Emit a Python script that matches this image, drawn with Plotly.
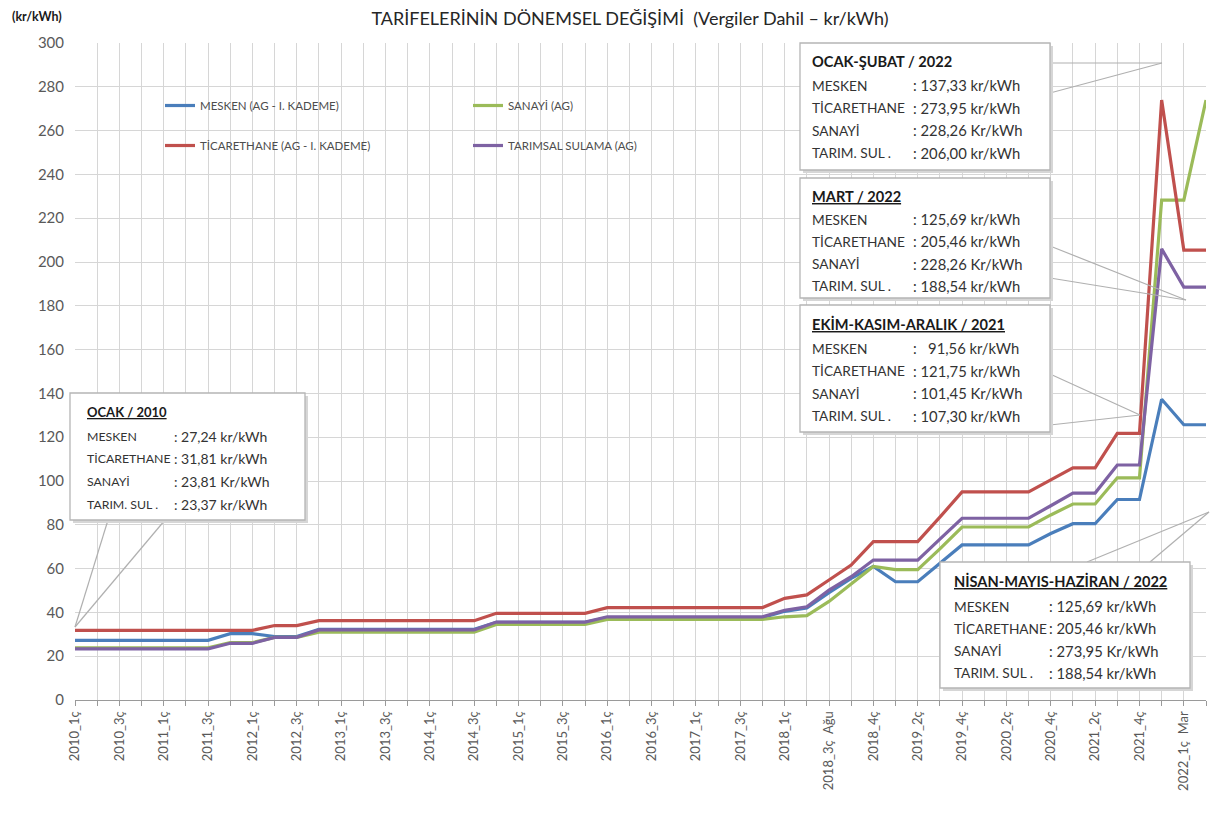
import plotly.graph_objects as go

# ---------------- data ----------------
categories = [
    "2010_1ç", "2010_2ç", "2010_3ç", "2010_4ç",
    "2011_1ç", "2011_2ç", "2011_3ç", "2011_4ç",
    "2012_1ç", "2012_2ç", "2012_3ç", "2012_4ç",
    "2013_1ç", "2013_2ç", "2013_3ç", "2013_4ç",
    "2014_1ç", "2014_2ç", "2014_3ç", "2014_4ç",
    "2015_1ç", "2015_2ç", "2015_3ç", "2015_4ç",
    "2016_1ç", "2016_2ç", "2016_3ç", "2016_4ç",
    "2017_1ç", "2017_2ç", "2017_3ç", "2017_4ç",
    "2018_1ç", "2018_2ç", "2018_3ç Ağu", "2018_3ç Eyl", "2018_4ç",
    "2019_1ç", "2019_2ç", "2019_3ç", "2019_4ç",
    "2020_1ç", "2020_2ç", "2020_3ç", "2020_4ç",
    "2021_1ç", "2021_2ç", "2021_3ç", "2021_4ç",
    "2022_1ç Oca", "2022_1ç Mar", "2022_2ç",
]
# only every second category carries a visible label
tick_labels = [c.replace(" ", "&nbsp;&nbsp;") if i % 2 == 0 else ""
               for i, c in enumerate(categories)]

mesken = [27.24, 27.24, 27.24, 27.24, 27.24, 27.24, 27.24, 30.3,
          30.3, 29.0, 29.0, 32.3, 32.3, 32.3, 32.3, 32.3,
          32.3, 32.3, 32.3, 35.5, 35.5, 35.5, 35.5, 35.5,
          37.6, 37.6, 37.6, 37.6, 37.6, 37.6, 37.6, 37.6,
          40.5, 42.0, 49.0, 55.5, 61.0,
          54.0, 54.0, 62.5, 70.8,
          70.8, 70.8, 70.8, 76.0,
          80.5, 80.5, 91.56, 91.56,
          137.33, 125.69, 125.69]
sanayi = [23.81, 23.81, 23.81, 23.81, 23.81, 23.81, 23.81, 26.2,
          26.2, 28.6, 28.6, 31.0, 31.0, 31.0, 31.0, 31.0,
          31.0, 31.0, 31.0, 34.5, 34.5, 34.5, 34.5, 34.5,
          36.8, 36.8, 36.8, 36.8, 36.8, 36.8, 36.8, 36.8,
          38.0, 38.5, 45.0, 53.0, 61.0,
          59.5, 59.5, 69.0, 79.0,
          79.0, 79.0, 79.0, 84.5,
          89.5, 89.5, 101.45, 101.45,
          228.26, 228.26, 273.95]
ticarethane = [31.81, 31.81, 31.81, 31.81, 31.81, 31.81, 31.81, 31.81,
               31.81, 34.0, 34.0, 36.2, 36.2, 36.2, 36.2, 36.2,
               36.2, 36.2, 36.2, 39.6, 39.6, 39.6, 39.6, 39.6,
               42.2, 42.2, 42.2, 42.2, 42.2, 42.2, 42.2, 42.2,
               46.4, 48.0, 54.8, 61.6, 72.3,
               72.3, 72.3, 83.5, 95.0,
               95.0, 95.0, 95.0, 100.5,
               106.0, 106.0, 121.75, 121.75,
               273.95, 205.46, 205.46]
tarimsal = [23.37, 23.37, 23.37, 23.37, 23.37, 23.37, 23.37, 25.9,
            25.9, 28.6, 28.6, 32.0, 32.0, 32.0, 32.0, 32.0,
            32.0, 32.0, 32.0, 35.6, 35.6, 35.6, 35.6, 35.6,
            38.0, 38.0, 38.0, 38.0, 38.0, 38.0, 38.0, 38.0,
            41.0, 42.6, 50.2, 56.3, 63.9,
            63.9, 63.9, 73.5, 83.0,
            83.0, 83.0, 83.0, 88.7,
            94.5, 94.5, 107.30, 107.30,
            206.00, 188.54, 188.54]

series_names = ["MESKEN (AG - I. KADEME)", "SANAYİ (AG)",
                "TİCARETHANE (AG - I. KADEME)", "TARIMSAL SULAMA (AG)"]
series_values = [mesken, sanayi, ticarethane, tarimsal]
series_colors = ["#4A7EBB", "#9BBB59", "#C0504D", "#7E62A3"]
series_legends = ["legend", "legend2", "legend", "legend2"]

row_labels = ["MESKEN", "TİCARETHANE", "SANAYİ", "TARIM. SUL ."]
box_texts = [
    ("OCAK / 2010", True, [": 27,24 kr/kWh", ": 31,81 kr/kWh", ": 23,81 Kr/kWh", ": 23,37 kr/kWh"]),
    ("OCAK-ŞUBAT / 2022", False, [": 137,33 kr/kWh", ": 273,95 kr/kWh", ": 228,26 Kr/kWh", ": 206,00 kr/kWh"]),
    ("MART / 2022", True, [": 125,69 kr/kWh", ": 205,46 kr/kWh", ": 228,26 Kr/kWh", ": 188,54 kr/kWh"]),
    ("EKİM-KASIM-ARALIK / 2021", True, [":   91,56 kr/kWh", ": 121,75 kr/kWh", ": 101,45 Kr/kWh", ": 107,30 kr/kWh"]),
    ("NİSAN-MAYIS-HAZİRAN / 2022", True, [": 125,69 kr/kWh", ": 205,46 kr/kWh", ": 273,95 Kr/kWh", ": 188,54 kr/kWh"]),
]

# ---------------- layout geometry (screen pixels) ----------------
SCREEN_W, SCREEN_H = 1220, 829
OFF = 8                      # default page body margin
W, H = SCREEN_W - 2 * OFF, SCREEN_H - 2 * OFF
L, R, T, B = 75, 1206, 43, 700
FONT = "Lato"

def px(x):
    return (x - L) / (R - L)

def py(y):
    return (B - y) / (B - T)

# box geometry: x0, x1, y0, y1, label x, value x, title y, first row y, row step,
#               title size, label size, value size
box_geom = [
    (70, 305, 393, 520, 85, 172, 412, 436, 22.7, 13.0, 12.3, 14.0),
    (800, 1050, 43, 170, 810, 911, 61, 85, 22.6, 14.6, 13.7, 14.8),
    (800, 1050, 178, 298, 810, 911, 196, 219, 22.3, 14.6, 13.7, 14.8),
    (800, 1050, 305, 432, 810, 911, 324, 348, 22.6, 14.6, 13.7, 14.8),
    (940, 1190, 562, 688, 952, 1047, 581, 606, 22.3, 14.6, 13.7, 14.8),
]
# callout wedge lines (pixel endpoints)
callouts = [
    [(75, 627, 108, 520), (75, 627, 165, 520)],
    [(1050, 63, 1162, 63), (1050, 93, 1162, 63)],
    [(1050, 246, 1186, 300), (1050, 278, 1186, 300)],
    [(1050, 374, 1140, 415), (1050, 425, 1140, 415)],
    [(1087, 562, 1209, 512), (1150, 562, 1209, 512)],
]

fig = go.Figure()
for name, vals, col, lg in zip(series_names, series_values, series_colors, series_legends):
    fig.add_trace(go.Scatter(
        x=categories, y=vals, mode="lines", name=name,
        line=dict(color=col, width=3.2), legend=lg, legendgroup=name,
        hoverinfo="skip",
    ))

shapes = []
annotations = []

# white background behind the legend
shapes.append(dict(type="rect", xref="paper", yref="paper", layer="between",
                   x0=px(145), x1=px(700), y0=py(165), y1=py(88),
                   fillcolor="white", line=dict(width=0)))

for lines in callouts:
    for (x0, y0, x1, y1) in lines:
        shapes.append(dict(type="line", xref="paper", yref="paper", layer="above",
                           x0=px(x0), y0=py(y0), x1=px(x1), y1=py(y1),
                           line=dict(color="#b0b0b0", width=1.2)))

for (title, underline, vals), g in zip(box_texts, box_geom):
    x0, x1, y0, y1, lx, vx, ty, ry, step, tfs, lfs, vfs = g
    # shadow
    shapes.append(dict(type="rect", xref="paper", yref="paper", layer="above",
                       x0=px(x0 + 3), x1=px(x1 + 3), y0=py(y1 + 3), y1=py(y0 + 3),
                       fillcolor="#d6d6d6", line=dict(width=0)))
    shapes.append(dict(type="rect", xref="paper", yref="paper", layer="above",
                       x0=px(x0), x1=px(x1), y0=py(y1), y1=py(y0),
                       fillcolor="white", line=dict(color="#b5b5b5", width=1.3)))
    t = f"<b>{title}</b>"
    if underline:
        t = f"<u>{t}</u>"
    annotations.append(dict(xref="paper", yref="paper", x=px(lx), y=py(ty),
                            xanchor="left", yanchor="middle", showarrow=False,
                            text=t, font=dict(family=FONT, size=tfs, color="#1a1a1a")))
    for i, (lab, val) in enumerate(zip(row_labels, vals)):
        yy = py(ry + i * step)
        annotations.append(dict(xref="paper", yref="paper", x=px(lx), y=yy,
                                xanchor="left", yanchor="middle", showarrow=False,
                                text=lab, font=dict(family=FONT, size=lfs, color="#333333")))
        annotations.append(dict(xref="paper", yref="paper", x=px(vx), y=yy,
                                xanchor="left", yanchor="middle", showarrow=False,
                                text=val.replace("  ", "&nbsp;&nbsp;"),
                                font=dict(family=FONT, size=vfs, color="#333333")))

# corner unit label
annotations.append(dict(xref="paper", yref="paper", x=px(10), y=py(17),
                        xanchor="left", yanchor="middle", showarrow=False,
                        text="<b>(kr/kWh)</b>", font=dict(family=FONT, size=12.5, color="#1a1a1a")))

fig.update_layout(
    width=W, height=H,
    margin=dict(l=L - OFF, r=(SCREEN_W - OFF) - R, t=T - OFF, b=(SCREEN_H - OFF) - B, pad=0),
    paper_bgcolor="white", plot_bgcolor="white",
    title=dict(text="TARİFELERİNİN DÖNEMSEL DEĞİŞİMİ  (Vergiler Dahil – kr/kWh)",
               x=px(630), xref="paper", xanchor="center",
               y=1 - (19 - OFF) / H, yref="container", yanchor="middle",
               font=dict(family=FONT, size=18, color="#262626")),
    font=dict(family=FONT, color="#595959"),
    xaxis=dict(type="category", categoryorder="array", categoryarray=categories,
               range=[0, len(categories) - 1],
               tickmode="array", tickvals=categories, ticktext=tick_labels,
               tickangle=-90, tickfont=dict(family=FONT, size=13, color="#595959"),
               showgrid=True, gridcolor="#d6d6d6", gridwidth=1,
               showline=True, linecolor="#9a9a9a", linewidth=1.2,
               ticks="outside", ticklen=5, tickcolor="#9a9a9a",
               zeroline=False, automargin=False),
    yaxis=dict(range=[0, 300], tickmode="linear", tick0=0, dtick=20,
               tickfont=dict(family=FONT, size=15, color="#595959"),
               showgrid=True, gridcolor="#d6d6d6", gridwidth=1,
               zeroline=False, showline=False, ticks="", ticklabelstandoff=10,
               automargin=False),
    legend=dict(x=px(160), y=py(91), xanchor="left", yanchor="top",
                orientation="v", bgcolor="rgba(0,0,0,0)", tracegroupgap=21,
                font=dict(family=FONT, size=11.5, color="#4d4d4d")),
    legend2=dict(x=px(468), y=py(91), xanchor="left", yanchor="top",
                 orientation="v", bgcolor="rgba(0,0,0,0)", tracegroupgap=21,
                 font=dict(family=FONT, size=11.5, color="#4d4d4d")),
    shapes=shapes,
    annotations=annotations,
    showlegend=True,
)

fig.write_html("out.html")
